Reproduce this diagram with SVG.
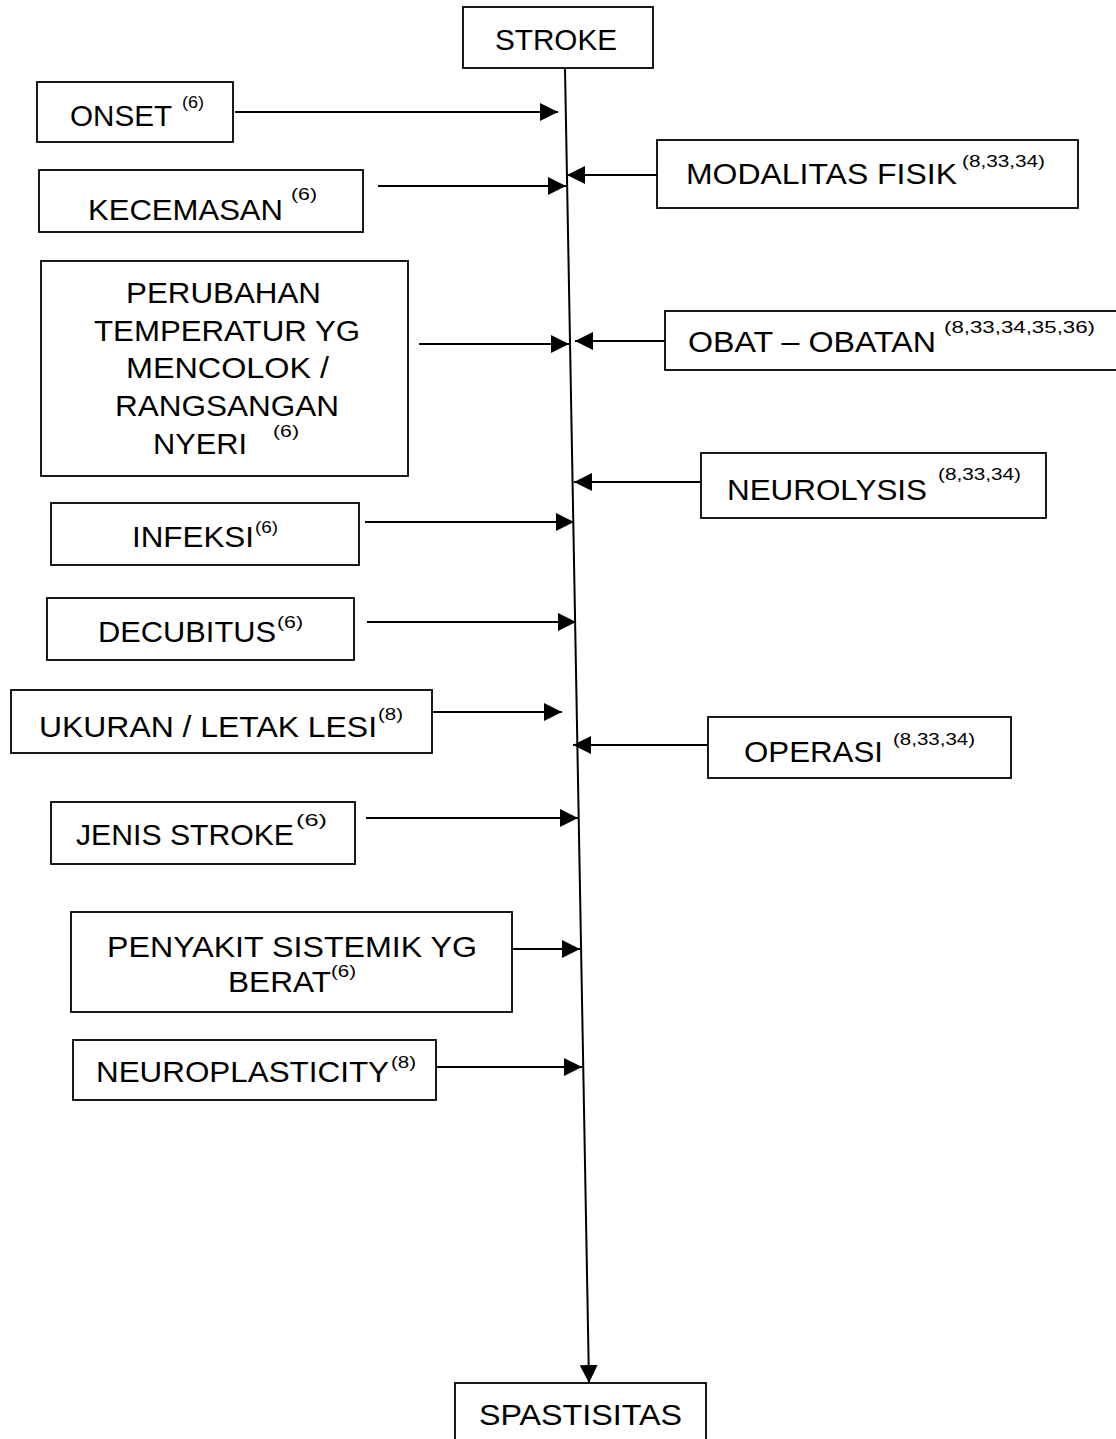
<svg xmlns="http://www.w3.org/2000/svg" width="1116" height="1439" viewBox="0 0 1116 1439">
<style>
.box{fill:#fff;stroke:#000;stroke-width:1.8}
.t{font-family:"Liberation Sans",Arial,sans-serif;font-size:30px;fill:#000}
.s{font-family:"Liberation Sans",Arial,sans-serif;font-size:17px;fill:#000}
.c{fill:none;stroke:#000;stroke-width:2}
</style>
<defs>
<marker id="ah" viewBox="0 0 10 10" refX="10" refY="5" markerWidth="18" markerHeight="18" markerUnits="userSpaceOnUse" orient="auto">
<path d="M0,0 L10,5 L0,10 z" fill="#000"/>
</marker>
</defs>
<rect width="1116" height="1439" fill="#fff"/>

<g id="connectors">
<path class="c" d="M565,68 L589,1383" marker-end="url(#ah)"/>
<path class="c" d="M235,112 L558,112" marker-end="url(#ah)"/>
<path class="c" d="M378,186 L566,186" marker-end="url(#ah)"/>
<path class="c" d="M657,175 L567,175" marker-end="url(#ah)"/>
<path class="c" d="M419,344 L569,344" marker-end="url(#ah)"/>
<path class="c" d="M665,341 L575,341" marker-end="url(#ah)"/>
<path class="c" d="M701,482 L574,482" marker-end="url(#ah)"/>
<path class="c" d="M365,522 L574,522" marker-end="url(#ah)"/>
<path class="c" d="M367,622 L576,622" marker-end="url(#ah)"/>
<path class="c" d="M432,712 L562,712" marker-end="url(#ah)"/>
<path class="c" d="M708,745 L573,745" marker-end="url(#ah)"/>
<path class="c" d="M366,818 L578,818" marker-end="url(#ah)"/>
<path class="c" d="M510,949 L580,949" marker-end="url(#ah)"/>
<path class="c" d="M432,1067 L582,1067" marker-end="url(#ah)"/>
</g>

<g id="stroke">
<rect class="box" x="463" y="7" width="190" height="61"/>
<text class="t" x="495" y="50" textLength="122" lengthAdjust="spacingAndGlyphs">STROKE</text>
</g>

<g id="onset">
<rect class="box" x="37" y="82" width="196" height="60"/>
<text class="t" x="70" y="126" textLength="102" lengthAdjust="spacingAndGlyphs">ONSET</text>
<text class="s" x="182" y="108" textLength="22" lengthAdjust="spacingAndGlyphs">(6)</text>
</g>

<g id="kecemasan">
<rect class="box" x="39" y="170" width="324" height="62"/>
<text class="t" x="88" y="220" textLength="195" lengthAdjust="spacingAndGlyphs">KECEMASAN</text>
<text class="s" x="291" y="200" textLength="26" lengthAdjust="spacingAndGlyphs">(6)</text>
</g>

<g id="modalitas">
<rect class="box" x="657" y="140" width="421" height="68"/>
<text class="t" x="686" y="184" textLength="271" lengthAdjust="spacingAndGlyphs">MODALITAS FISIK</text>
<text class="s" x="962" y="167" textLength="83" lengthAdjust="spacingAndGlyphs">(8,33,34)</text>
</g>

<g id="perubahan">
<rect class="box" x="41" y="261" width="367" height="215"/>
<text class="t" x="126" y="303" textLength="195" lengthAdjust="spacingAndGlyphs">PERUBAHAN</text>
<text class="t" x="94" y="341" textLength="266" lengthAdjust="spacingAndGlyphs">TEMPERATUR YG</text>
<text class="t" x="126" y="378" textLength="203" lengthAdjust="spacingAndGlyphs">MENCOLOK /</text>
<text class="t" x="115" y="416" textLength="224" lengthAdjust="spacingAndGlyphs">RANGSANGAN</text>
<text class="t" x="153" y="454" textLength="94" lengthAdjust="spacingAndGlyphs">NYERI</text>
<text class="s" x="273" y="437" textLength="26" lengthAdjust="spacingAndGlyphs">(6)</text>
</g>

<g id="obat">
<rect class="box" x="665" y="311" width="470" height="59"/>
<text class="t" x="688" y="352" textLength="248" lengthAdjust="spacingAndGlyphs">OBAT – OBATAN</text>
<text class="s" x="944" y="333" textLength="151" lengthAdjust="spacingAndGlyphs">(8,33,34,35,36)</text>
</g>

<g id="neurolysis">
<rect class="box" x="701" y="453" width="345" height="65"/>
<text class="t" x="727" y="500" textLength="200" lengthAdjust="spacingAndGlyphs">NEUROLYSIS</text>
<text class="s" x="938" y="480" textLength="83" lengthAdjust="spacingAndGlyphs">(8,33,34)</text>
</g>

<g id="infeksi">
<rect class="box" x="51" y="503" width="308" height="62"/>
<text class="t" x="132" y="547" textLength="122" lengthAdjust="spacingAndGlyphs">INFEKSI</text>
<text class="s" x="255" y="533" textLength="23" lengthAdjust="spacingAndGlyphs">(6)</text>
</g>

<g id="decubitus">
<rect class="box" x="47" y="598" width="307" height="62"/>
<text class="t" x="98" y="642" textLength="178" lengthAdjust="spacingAndGlyphs">DECUBITUS</text>
<text class="s" x="277" y="628" textLength="26" lengthAdjust="spacingAndGlyphs">(6)</text>
</g>

<g id="ukuran">
<rect class="box" x="11" y="690" width="421" height="63"/>
<text class="t" x="39" y="737" textLength="338" lengthAdjust="spacingAndGlyphs">UKURAN / LETAK LESI</text>
<text class="s" x="378" y="720" textLength="25" lengthAdjust="spacingAndGlyphs">(8)</text>
</g>

<g id="operasi">
<rect class="box" x="708" y="717" width="303" height="61"/>
<text class="t" x="744" y="762" textLength="139" lengthAdjust="spacingAndGlyphs">OPERASI</text>
<text class="s" x="893" y="745" textLength="82" lengthAdjust="spacingAndGlyphs">(8,33,34)</text>
</g>

<g id="jenis">
<rect class="box" x="51" y="802" width="304" height="62"/>
<text class="t" x="76" y="845" textLength="218" lengthAdjust="spacingAndGlyphs">JENIS STROKE</text>
<text class="s" x="296" y="826" textLength="31" lengthAdjust="spacingAndGlyphs">(6)</text>
</g>

<g id="penyakit">
<rect class="box" x="71" y="912" width="441" height="100"/>
<text class="t" x="107" y="957" textLength="370" lengthAdjust="spacingAndGlyphs">PENYAKIT SISTEMIK YG</text>
<text class="t" x="228" y="992" textLength="103" lengthAdjust="spacingAndGlyphs">BERAT</text>
<text class="s" x="331" y="977" textLength="25" lengthAdjust="spacingAndGlyphs">(6)</text>
</g>

<g id="neuroplasticity">
<rect class="box" x="73" y="1040" width="363" height="60"/>
<text class="t" x="96" y="1082" textLength="293" lengthAdjust="spacingAndGlyphs">NEUROPLASTICITY</text>
<text class="s" x="391" y="1068" textLength="25" lengthAdjust="spacingAndGlyphs">(8)</text>
</g>

<g id="spastisitas">
<rect class="box" x="455" y="1383" width="251" height="70"/>
<text class="t" x="479" y="1425" textLength="203" lengthAdjust="spacingAndGlyphs">SPASTISITAS</text>
</g>
</svg>
